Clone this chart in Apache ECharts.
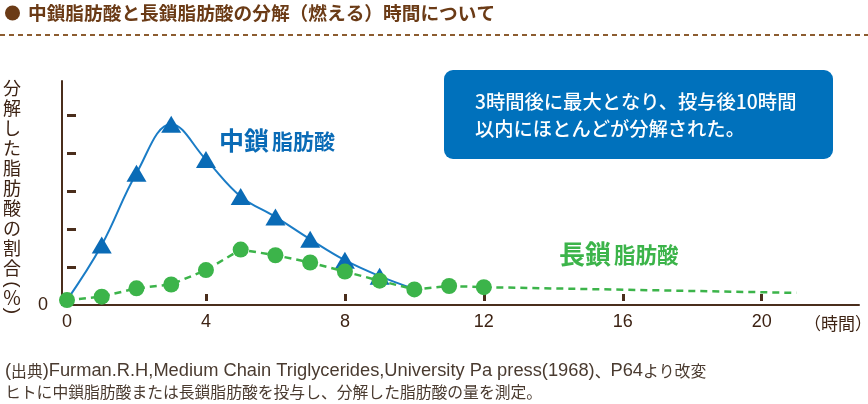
<!DOCTYPE html>
<html>
<head>
<meta charset="utf-8">
<script src="https://cdn.jsdelivr.net/npm/echarts@6/dist/echarts.min.js"></script>
<style>
html,body{margin:0;padding:0;background:#fff;}
#c{width:868px;height:404px;}
</style>
</head>
<body>
<div id="c"></div>
<script>
// ---- data ----
const mctHours   = [0, 1, 2, 3, 4, 5, 6, 7, 8, 9, 10];
const mctValues  = [0.13, 1.58, 3.47, 4.76, 3.83, 2.86, 2.32, 1.73, 1.18, 0.76, 0.42];
const lctHours   = [0, 1, 2, 3, 4, 5, 6, 7, 8, 9, 10, 11, 12, 21];
const lctValues  = [0.13, 0.22, 0.44, 0.54, 0.92, 1.46, 1.31, 1.12, 0.88, 0.64, 0.41, 0.50, 0.47, 0.32];
const xTickLabels = [0, 4, 8, 12, 16, 20];
const xTickMarks  = [4, 8, 12, 16, 20];
const yTickMarks  = [1, 2, 3, 4, 5];
const yTickLabels = [0];

const titleText = '中鎖脂肪酸と長鎖脂肪酸の分解（燃える）時間について';
const yNameChars = ['分','解','し','た','脂','肪','酸','の','割','合'];
const noteLines = ['3時間後に最大となり、投与後10時間', '以内にほとんどが分解された。'];
// footnote line 1 in pieces: [text, isLatin]
const footLine1 = [['(', 1], ['出典', 0], [')', 1],
                   ['Furman.R.H,Medium Chain Triglycerides,University Pa press(1968)', 1],
                   ['、', 0], ['P64', 1], ['より改変', 0]];
const footLine2 = 'ヒトに中鎖脂肪酸または長鎖脂肪酸を投与し、分解した脂肪酸の量を測定。';

const BROWN = '#4a2e1c';
const TITLE_BROWN = '#6b3b16';
const TEXT_BROWN = '#3d2314';
const BLUE = '#1a7cc6';
const BLUE_MARK = '#0a6bb6';
const GREEN = '#3cb44a';
const FOOT = '#4a3b30';
const JP = '"Noto Sans CJK JP", "Noto Sans", sans-serif';
const LAT = '"Liberation Sans", Arial, sans-serif';

const chart = echarts.init(document.getElementById('c'), null, {renderer: 'canvas'});

const mctData = mctHours.map((h, i) => ({
  value: [h, mctValues[i]],
  symbol: (i === 0 || i === mctHours.length - 1) ? 'none' : 'triangle'
}));
const lctData = lctHours.map((h, i) => ({
  value: [h, lctValues[i]],
  symbol: (i === lctHours.length - 1) ? 'none' : 'circle'
}));

const foot1Rich = footLine1.map(([t, lat]) => '{' + (lat ? 'l' : 'c') + '|' + t + '}').join('');

const xMax = 22.8, yMax = 5.9;

chart.setOption({
  animation: false,
  backgroundColor: '#fff',
  grid: {left: 67, right: 9, top: 81, bottom: 99, containLabel: false},
  xAxis: [
    {
      type: 'value', min: 0, max: xMax, interval: 4,
      axisLine: {show: true, onZero: false, lineStyle: {color: BROWN, width: 2}},
      axisTick: {show: false},
      splitLine: {show: false},
      axisLabel: {customValues: xTickLabels, fontSize: 18, color: TEXT_BROWN,
                  fontFamily: LAT, margin: 8}
    },
    {
      type: 'value', min: 0, max: xMax, interval: 4, position: 'bottom', offset: -4,
      axisLine: {show: false, onZero: false},
      axisTick: {show: true, inside: true, length: 7, customValues: xTickMarks,
                 lineStyle: {color: BROWN, width: 3}},
      axisLabel: {show: false},
      splitLine: {show: false}
    }
  ],
  yAxis: [
    {
      type: 'value', min: 0, max: yMax, interval: 1, position: 'left', offset: 5,
      axisLine: {show: true, onZero: false, lineStyle: {color: BROWN, width: 2}},
      axisTick: {show: false},
      splitLine: {show: false},
      axisLabel: {customValues: yTickLabels, fontSize: 18, color: TEXT_BROWN,
                  fontFamily: LAT, margin: 14}
    },
    {
      type: 'value', min: 0, max: yMax, interval: 1, position: 'left', offset: 0,
      axisLine: {show: false, onZero: false},
      axisTick: {show: true, inside: true, length: 9, customValues: yTickMarks,
                 lineStyle: {color: BROWN, width: 3}},
      axisLabel: {show: false},
      splitLine: {show: false}
    }
  ],
  series: [
    {
      name: '中鎖脂肪酸', type: 'line', xAxisIndex: 0, yAxisIndex: 0,
      data: mctData, smooth: 0.4,
      symbolSize: [20, 17],
      lineStyle: {color: BLUE, width: 2},
      itemStyle: {color: BLUE_MARK},
      z: 3
    },
    {
      name: '長鎖脂肪酸', type: 'line', xAxisIndex: 0, yAxisIndex: 0,
      data: lctData, smooth: false,
      symbolSize: 16,
      lineStyle: {color: GREEN, width: 2.5, type: [7, 5]},
      itemStyle: {color: GREEN},
      z: 4
    }
  ],
  graphic: [
    {type: 'circle', shape: {cx: 12.5, cy: 13, r: 7.5}, style: {fill: TITLE_BROWN}},
    {type: 'text', x: 28, y: 13, style: {text: titleText, font: 'bold 18.7px ' + JP,
      fill: TITLE_BROWN, verticalAlign: 'middle', align: 'left'}},
    {type: 'line', shape: {x1: 0, y1: 35, x2: 868, y2: 35},
      style: {stroke: '#8c5c30', lineWidth: 2, lineDash: [5, 4]}},
    {type: 'text', x: 12, y: 78.5, style: {text: yNameChars.join('\n'), font: '18px ' + JP,
      fill: TEXT_BROWN, align: 'center', verticalAlign: 'top', lineHeight: 20}},
    {type: 'text', x: 12, y: 284.5, rotation: -Math.PI / 2, style: {text: '(', font: '19px ' + LAT,
      fill: TEXT_BROWN, align: 'center', verticalAlign: 'middle'}},
    {type: 'text', x: 12, y: 298, style: {text: '％', font: '19px ' + JP,
      fill: TEXT_BROWN, align: 'center', verticalAlign: 'middle'}},
    {type: 'text', x: 12, y: 311, rotation: -Math.PI / 2, style: {text: ')', font: '19px ' + LAT,
      fill: TEXT_BROWN, align: 'center', verticalAlign: 'middle'}},
    {type: 'rect', shape: {x: 444, y: 70, width: 389, height: 89, r: 9}, style: {fill: '#0071bc'}},
    {type: 'text', x: 475, y: 102, style: {text: noteLines[0], font: '500 19.3px ' + JP,
      fill: '#fff', verticalAlign: 'middle'}},
    {type: 'text', x: 475, y: 128.5, style: {text: noteLines[1], font: '500 19.3px ' + JP,
      fill: '#fff', verticalAlign: 'middle'}},
    {type: 'text', x: 219, y: 140, style: {
      text: '{b|中鎖}{s|脂肪酸}',
      rich: {
        b: {font: 'bold 25px ' + JP, fill: BLUE_MARK, verticalAlign: 'middle'},
        s: {font: 'bold 21px ' + JP, fill: BLUE_MARK, verticalAlign: 'middle', padding: [2, 0, 0, 3]}
      },
      verticalAlign: 'middle'}},
    {type: 'text', x: 559, y: 254, style: {
      text: '{b|長鎖}{s|脂肪酸}',
      rich: {
        b: {font: 'bold 26px ' + JP, fill: GREEN, verticalAlign: 'middle'},
        s: {font: 'bold 21.5px ' + JP, fill: GREEN, verticalAlign: 'middle', padding: [2, 0, 0, 3]}
      },
      verticalAlign: 'middle'}},
    {type: 'text', x: 804, y: 324, style: {text: '（時間）', font: '17px ' + JP,
      fill: TEXT_BROWN, verticalAlign: 'middle'}},
    {type: 'text', x: 5, y: 371, style: {text: foot1Rich,
      rich: {
        l: {font: '18.3px ' + LAT, fill: FOOT, verticalAlign: 'middle'},
        c: {font: '15.8px ' + JP, fill: FOOT, verticalAlign: 'middle'}
      },
      verticalAlign: 'middle'}},
    {type: 'text', x: 5, y: 392, style: {text: footLine2, font: '15.8px ' + JP,
      fill: FOOT, verticalAlign: 'middle'}}
  ]
});
</script>
</body>
</html>
